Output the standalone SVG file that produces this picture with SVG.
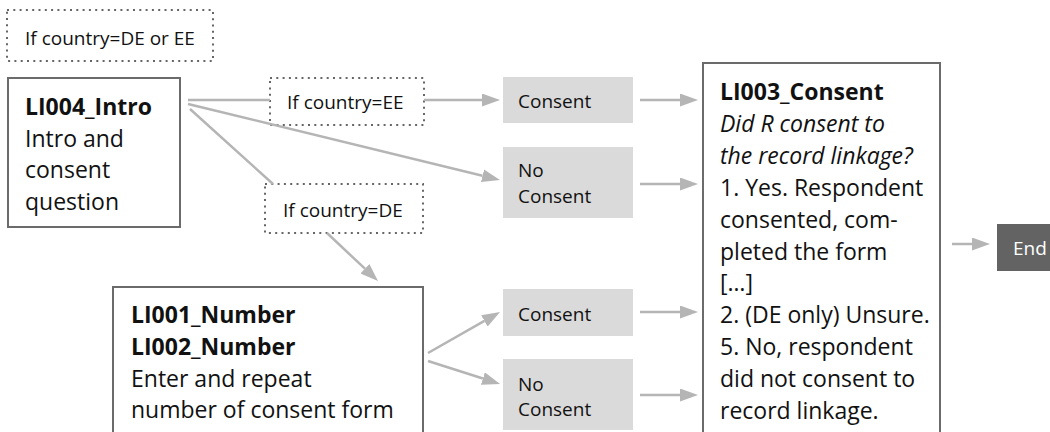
<svg xmlns="http://www.w3.org/2000/svg" width="1050" height="432" viewBox="0 0 1050 432">
  <style>
    .box { fill: #ffffff; stroke: #6b6b6b; stroke-width: 2; }
    .cond { fill: none; stroke: #666666; stroke-width: 2; stroke-dasharray: 2 4.3; }
    .answer { fill: #dadada; stroke: none; }
    .endbox { fill: #636363; stroke: none; }
    .edge { fill: none; stroke: #b5b5b5; stroke-width: 2.5; }
    text { font-family: "Open Sans", "Noto Sans", "Liberation Sans", sans-serif; fill: #111111; }
    .big { font-size: 23px; }
    .small { font-size: 19px; }
    .b { font-weight: bold; }
    .i { font-style: italic; }
    .white { fill: #ffffff; }
  </style>
  <defs>
    <marker id="arrow" markerUnits="userSpaceOnUse" markerWidth="18" markerHeight="13" viewBox="0 0 18 13" refX="0" refY="6.5" orient="auto">
      <path d="M0,0 L18,6.5 L0,13 z" fill="#b5b5b5"/>
    </marker>
  </defs>

  <!-- routing conditions -->
  <g id="cond-de-ee">
    <rect class="cond" x="7" y="10" width="206" height="51"/>
    <text class="small" x="25" y="45">If country=DE or EE</text>
  </g>
  <g id="cond-ee">
    <rect class="cond" x="270" y="78" width="154" height="47"/>
    <text class="small" x="287" y="109">If country=EE</text>
  </g>
  <g id="cond-de">
    <rect class="cond" x="265" y="184" width="158" height="49"/>
    <text class="small" x="283" y="217">If country=DE</text>
  </g>

  <!-- question boxes -->
  <g id="li004">
    <rect class="box" x="8" y="78" width="172" height="149"/>
    <text class="big" x="25" y="115"><tspan class="b">LI004_Intro</tspan><tspan x="25" dy="31.7">Intro and</tspan><tspan x="25" dy="31.7">consent</tspan><tspan x="25" dy="31.7">question</tspan></text>
  </g>
  <g id="li001-li002">
    <rect class="box" x="113" y="287" width="310" height="170"/>
    <text class="big" x="131" y="323"><tspan class="b">LI001_Number</tspan><tspan class="b" x="131" dy="31.8">LI002_Number</tspan><tspan x="131" dy="31.8">Enter and repeat</tspan><tspan x="131" dy="31.8">number of consent form</tspan></text>
  </g>
  <g id="li003">
    <rect class="box" x="703" y="63" width="237" height="400"/>
    <text class="big" x="720" y="100"><tspan class="b">LI003_Consent</tspan><tspan class="i" x="720" dy="31.9">Did R consent to</tspan><tspan class="i" x="720" dy="31.9">the record linkage?</tspan><tspan x="720" dy="31.9">1. Yes. Respondent</tspan><tspan x="720" dy="31.9">consented, com-</tspan><tspan x="720" dy="31.9">pleted the form</tspan><tspan x="720" dy="31.9">[…]</tspan><tspan x="720" dy="31.9">2. (DE only) Unsure.</tspan><tspan x="720" dy="31.9">5. No, respondent</tspan><tspan x="720" dy="31.9">did not consent to</tspan><tspan x="720" dy="31.9">record linkage.</tspan></text>
  </g>

  <!-- answers -->
  <g id="consent-ee">
    <rect class="answer" x="503" y="77" width="130" height="46"/>
    <text class="small" x="518" y="108">Consent</text>
  </g>
  <g id="noconsent-ee">
    <rect class="answer" x="503" y="147" width="130" height="71"/>
    <text class="small" x="518" y="177">No<tspan x="518" dy="25.5">Consent</tspan></text>
  </g>
  <g id="consent-de">
    <rect class="answer" x="503" y="289" width="130" height="47"/>
    <text class="small" x="518" y="321">Consent</text>
  </g>
  <g id="noconsent-de">
    <rect class="answer" x="503" y="359" width="130" height="71"/>
    <text class="small" x="518" y="390.5">No<tspan x="518" dy="25.5">Consent</tspan></text>
  </g>

  <g id="end">
    <rect class="endbox" x="997" y="224" width="53" height="47"/>
    <text class="small white" x="1013" y="255">End</text>
  </g>

  <!-- connectors -->
  <g id="connectors">
    <path class="edge" d="M188,100 L270,100"/>
    <path class="edge" d="M424,100 L482,100" marker-end="url(#arrow)"/>
    <path class="edge" d="M188,104 L482.5,175.7" marker-end="url(#arrow)"/>
    <path class="edge" d="M190,109 L273,184"/>
    <path class="edge" d="M327,233 L364.9,268.7" marker-end="url(#arrow)"/>
    <path class="edge" d="M428,353 L484.4,320.9" marker-end="url(#arrow)"/>
    <path class="edge" d="M428,361 L482.9,378.5" marker-end="url(#arrow)"/>
    <path class="edge" d="M640,100 L680,100" marker-end="url(#arrow)"/>
    <path class="edge" d="M640,184 L680,184" marker-end="url(#arrow)"/>
    <path class="edge" d="M640,312 L680,312" marker-end="url(#arrow)"/>
    <path class="edge" d="M640,395 L680,395" marker-end="url(#arrow)"/>
    <path class="edge" d="M952,244 L972,244" marker-end="url(#arrow)"/>
  </g>
</svg>
